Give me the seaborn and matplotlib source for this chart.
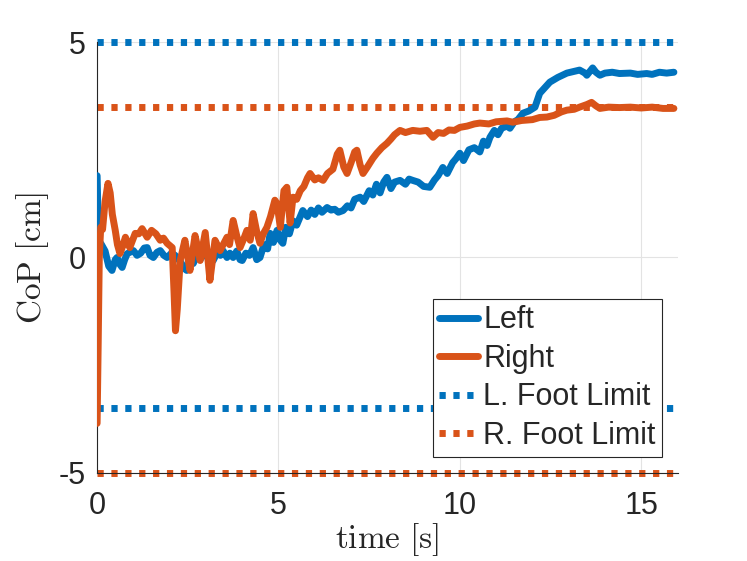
import matplotlib
matplotlib.use("Agg")
import matplotlib.pyplot as plt
import seaborn as sns

# -------------------------
# Data
# -------------------------
t_left = [0.00, 0.04, 0.12, 0.22, 0.32, 0.41, 0.50, 0.55, 0.62, 0.69, 0.76, 0.83,
          1.00, 1.10, 1.20, 1.30, 1.38, 1.46, 1.55, 1.65, 1.74, 1.84, 1.93, 2.05,
          2.15, 2.30, 2.40, 2.47, 2.56, 2.65, 2.75, 2.84, 2.93, 3.05, 3.11, 3.20,
          3.30, 3.40, 3.47, 3.58, 3.66, 3.75, 3.85, 3.94, 4.00, 4.10, 4.20, 4.30,
          4.40, 4.49, 4.60, 4.70, 4.77, 4.86, 4.96, 5.05, 5.12, 5.20, 5.30, 5.40,
          5.50, 5.60, 5.67, 5.80, 5.90, 6.00, 6.10, 6.20, 6.34, 6.45, 6.55, 6.65,
          6.78, 6.90, 7.00, 7.10, 7.25, 7.35, 7.50, 7.60, 7.70, 7.80, 7.90, 7.99,
          8.10, 8.20, 8.35, 8.50, 8.60, 8.70, 8.85, 9.00, 9.17, 9.30, 9.40, 9.53,
          9.65, 9.80, 9.90, 10.00, 10.10, 10.25, 10.40, 10.55, 10.65, 10.75, 10.83,
          10.95, 11.05, 11.15, 11.30, 11.38, 11.50, 11.60, 11.74, 11.90, 12.07,
          12.20, 12.35, 12.48, 12.70, 12.95, 13.15, 13.30, 13.45, 13.50, 13.66,
          13.75, 13.86, 14.00, 14.20, 14.40, 14.70, 14.90, 15.15, 15.30, 15.50,
          15.70, 15.90]
cop_left = [1.90, 0.40, 0.30, 0.15, -0.20, -0.30, -0.05, 0.00, -0.15, -0.23, -0.05, 0.09,
            0.16, 0.05, 0.10, 0.22, 0.23, 0.05, 0.00, 0.12, 0.16, 0.05, 0.00, 0.10,
            0.05, -0.10, -0.25, -0.30, -0.05, -0.14, 0.05, -0.05, 0.09, 0.00, -0.10, -0.07,
            0.10, 0.05, 0.16, 0.00, 0.10, 0.00, 0.15, -0.05, -0.07, 0.10, 0.05, 0.23,
            -0.05, 0.00, 0.30, 0.20, 0.56, 0.35, 0.63, 0.40, 0.33, 0.70, 0.55, 0.85,
            0.75, 0.95, 1.09, 0.95, 1.10, 1.00, 1.15, 1.05, 1.16, 1.10, 1.12, 1.05,
            1.09, 1.20, 1.15, 1.35, 1.40, 1.30, 1.55, 1.45, 1.70, 1.50, 1.75, 1.86,
            1.60, 1.75, 1.79, 1.70, 1.82, 1.79, 1.75, 1.65, 1.63, 1.80, 1.90, 2.09,
            1.95, 2.20, 2.30, 2.42, 2.25, 2.50, 2.55, 2.45, 2.70, 2.60, 2.79,
            2.95, 2.85, 3.00, 3.05, 3.00, 3.15, 3.20, 3.35, 3.40, 3.49,
            3.81, 3.95, 4.07, 4.18, 4.28, 4.32, 4.35, 4.28, 4.23, 4.40,
            4.30, 4.23, 4.28, 4.30, 4.27, 4.28, 4.25, 4.27, 4.25, 4.30,
            4.28, 4.30]

t_right = [0.00, 0.03, 0.06, 0.10, 0.15, 0.22, 0.30, 0.36, 0.42, 0.50, 0.56, 0.63,
           0.70, 0.78, 0.90, 1.05, 1.15, 1.24, 1.38, 1.50, 1.62, 1.74, 1.83, 1.93,
           2.07, 2.12, 2.16, 2.21, 2.29, 2.42, 2.50, 2.56, 2.70, 2.78, 2.84, 2.98,
           3.05, 3.11, 3.25, 3.39, 3.58, 3.65, 3.75, 3.85, 3.94, 4.05, 4.13, 4.22,
           4.30, 4.40, 4.49, 4.58, 4.68, 4.78, 4.90, 4.96, 5.05, 5.15, 5.23, 5.32,
           5.40, 5.50, 5.60, 5.70, 5.80, 5.87, 6.00, 6.10, 6.23, 6.35, 6.50, 6.62,
           6.69, 6.80, 6.89, 7.00, 7.10, 7.16, 7.25, 7.33, 7.45, 7.60, 7.71, 7.85,
           7.99, 8.10, 8.20, 8.35, 8.50, 8.70, 8.90, 9.09, 9.26, 9.40, 9.55, 9.70,
           9.85, 10.00, 10.20, 10.40, 10.55, 10.80, 11.00, 11.30, 11.46, 11.70,
           12.00, 12.20, 12.40, 12.60, 12.80, 12.95, 13.15, 13.30, 13.50, 13.63,
           13.75, 13.86, 14.10, 14.40, 14.70, 15.00, 15.30, 15.60, 15.90]
cop_right = [-3.85, -2.00, 0.00, 0.70, 0.65, 1.30, 1.72, 1.50, 1.00, 0.63, 0.30, 0.09,
             0.25, 0.47, 0.23, 0.56, 0.55, 0.67, 0.47, 0.63, 0.55, 0.40, 0.45, 0.33,
             0.23, -0.80, -1.70, -1.20, -0.07, 0.40, 0.00, -0.30, 0.51, 0.20, -0.07, 0.58,
             0.00, -0.53, 0.40, 0.16, 0.47, 0.30, 0.86, 0.50, 0.23, 0.45, 0.63, 0.40,
             1.02, 0.60, 0.33, 0.55, 0.70, 0.95, 1.33, 1.25, 0.70, 1.55, 1.63, 0.80,
             1.40, 1.35, 1.55, 1.65, 1.85, 1.95, 1.80, 1.85, 1.79, 1.95, 2.05, 2.40,
             2.49, 2.10, 1.95, 2.20, 2.45, 2.49, 2.15, 1.95, 2.10, 2.30, 2.42, 2.55,
             2.65, 2.75, 2.85, 2.95, 2.90, 2.95, 2.93, 2.95, 2.79, 2.90, 2.88, 2.96,
             2.95, 3.02, 3.05, 3.10, 3.12, 3.10, 3.15, 3.17, 3.14, 3.18,
             3.20, 3.25, 3.26, 3.30, 3.38, 3.42, 3.44, 3.49, 3.55, 3.60,
             3.52, 3.46, 3.49, 3.48, 3.49, 3.47, 3.49, 3.46, 3.46]

left_limits = [5.0, -3.5]
right_limits = [3.5, -5.0]

x_ticks = [0, 5, 10, 15]
y_ticks = [-5, 0, 5]

BLUE = "#0072BD"
ORANGE = "#D95319"
DARK = "#262626"

# -------------------------
# Style
# -------------------------
sns.set_theme(style="white")
plt.rcParams['font.family'] = ['Liberation Sans', 'DejaVu Sans']
plt.rcParams['mathtext.fontset'] = 'cm'
plt.rcParams['axes.unicode_minus'] = False

fig = plt.figure(figsize=(7.47, 5.61), dpi=100)
ax = fig.add_axes([0.130, 0.157, 0.777, 0.768])

# -------------------------
# Lines
# -------------------------
lw = 5.0
sns.lineplot(x=t_left, y=cop_left, color=BLUE, linewidth=lw, label="Left",
             ax=ax, zorder=3, estimator=None, sort=False)
sns.lineplot(x=t_right, y=cop_right, color=ORANGE, linewidth=lw, label="Right",
             ax=ax, zorder=4, estimator=None, sort=False)

dots = (0.9, 1.1)
for i, v in enumerate(left_limits):
    ax.axhline(v, color=BLUE, linewidth=lw, linestyle=(0, dots),
               dash_capstyle="butt", zorder=2, clip_on=False,
               label="L. Foot Limit" if i == 0 else None)
for i, v in enumerate(right_limits):
    ax.axhline(v, color=ORANGE, linewidth=lw, linestyle=(0, dots),
               dash_capstyle="butt", zorder=2, clip_on=False,
               label="R. Foot Limit" if i == 0 else None)

# -------------------------
# Axes
# -------------------------
ax.set_xlim(0, 16)
ax.set_ylim(-5, 5)
ax.set_xticks(x_ticks)
ax.set_yticks(y_ticks)
ax.tick_params(axis="both", labelsize=22, direction="in", length=5,
               width=0.8, colors=DARK)
ax.tick_params(axis="x", pad=13)
ax.tick_params(axis="y", pad=8)

ax.grid(True, color="#e3e3e3", linewidth=0.8)
ax.set_axisbelow(True)
sns.despine(ax=ax, top=True, right=True)
for s in ["left", "bottom"]:
    ax.spines[s].set_color(DARK)
    ax.spines[s].set_linewidth(0.8)

ax.set_xlabel(r"$\mathrm{time\ [s]}$", fontsize=24, color=DARK, labelpad=0)
ax.set_ylabel(r"$\mathrm{CoP\ [cm]}$", fontsize=24, color=DARK, labelpad=6)

leg = ax.legend(loc="lower right", bbox_to_anchor=(0.9725, 0.037), borderaxespad=0,
                fontsize=22, frameon=True, fancybox=False, framealpha=1,
                edgecolor=DARK, handlelength=1.3, handletextpad=0.15,
                labelspacing=0.28, borderpad=0.2)
leg.get_frame().set_linewidth(0.8)

fig.savefig("out.png", dpi=100)
